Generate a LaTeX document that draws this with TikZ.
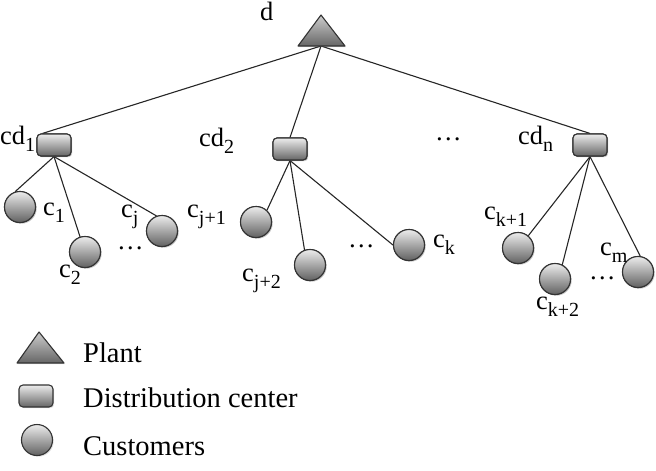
\documentclass[tikz,border=0pt]{standalone}
\usepackage{fontspec}
\setmainfont{Liberation Serif}
\usetikzlibrary{shadows}
\newcommand\sbx[1]{\raisebox{-0.62ex}{\fontsize{20}{22}\selectfont #1}}
\newcommand\lblfont{\fontsize{26.5}{28}\selectfont}
\newcommand\legfont{\fontsize{28.5}{30}\selectfont}
\begin{document}
\begin{tikzpicture}[x=1pt,y=-1pt,
  plantshape/.style={draw=black!80, line width=1.1pt, line join=round, top color=gray!40, bottom color=black!60,
    drop shadow={shadow xshift=1.2pt, shadow yshift=-1.2pt, opacity=0.25}},
  dcbox/.style={draw=black!80, line width=1.1pt, rounded corners=4pt, minimum width=34pt, minimum height=22pt,
    inner sep=0pt, top color=gray!15, bottom color=black!60,
    drop shadow={shadow xshift=1.2pt, shadow yshift=-1.2pt, opacity=0.25}},
  cust/.style={circle, draw=black!80, line width=1.1pt, minimum size=31pt, inner sep=0pt,
    top color=gray!15, bottom color=black!62,
    drop shadow={shadow xshift=1.2pt, shadow yshift=-1.2pt, opacity=0.25}},
  link/.style={draw=black!85, line width=1.1pt},
  lbl/.style={anchor=base west, inner sep=0pt, font=\lblfont},
  dotl/.style={anchor=base west, inner sep=0pt, font=\lblfont, text height=4pt, text depth=0pt},
  leg/.style={anchor=base west, inner sep=0pt, font=\legfont},
]
\useasboundingbox (0,0) rectangle (656,471);

% plant
\coordinate (dapex) at (321,15);
\coordinate (dl) at (298,46);
\coordinate (dr) at (345,46);
\coordinate (d) at (321,46);

% distribution centers
\node[dcbox] (cd1) at (54,145) {};
\node[dcbox] (cd2) at (290,149) {};
\node[dcbox] (cdn) at (590,145) {};

% customers
\node[cust] (c1) at (20,207) {};
\node[cust] (c2) at (85,252) {};
\node[cust] (cj) at (162,231) {};
\node[cust] (cj1) at (256,222) {};
\node[cust] (cj2) at (310,265) {};
\node[cust] (ck) at (409,245) {};
\node[cust] (ck1) at (518,248) {};
\node[cust] (ck2) at (555,279) {};
\node[cust] (cm) at (638,272) {};

% links
\path[link] (d) -- ([xshift=6pt]cd1.north west);
\path[link] (d) -- (cd2.north);
\path[link] (d) -- (cdn.north);
\path[link] (cd1.south) -- (c1.108);
\path[link] (cd1.south) -- (c2.108);
\path[link] (cd1.south) -- (cj.110);
\path[link] (cd2.south) -- (cj1.47);
\path[link] (cd2.south) -- (cj2.110);
\path[link] (cd2.south) -- (ck.180);
\path[link] (cdn.south) -- (ck1.50);
\path[link] (cdn.south) -- (ck2.63);
\path[link] (cdn.south) -- (cm.82);

% redraw shapes above links
\path[plantshape] (dapex) -- (dr) -- (dl) -- cycle;
\node[dcbox] at (cd1) {};
\node[dcbox] at (cd2) {};
\node[dcbox] at (cdn) {};
\foreach \n in {c1,c2,cj,cj1,cj2,ck,ck1,ck2,cm} \node[cust] at (\n) {};

% labels
\node[lbl] (ld) at (260,20) {d};
\node[lbl] (lcd1) at (0,144) {cd\sbx{1}};
\node[lbl] (lcd2) at (199,146) {cd\sbx{2}};
\node[lbl] (lcdn) at (518,144) {cd\sbx{n}};
\node[dotl] (ldots0) at (435,140) {…};
\node[lbl] (lc1) at (43,215) {c\sbx{1}};
\node[lbl] (lc2) at (59,277) {c\sbx{2}};
\node[lbl] (lcj) at (121,217) {c\sbx{j}};
\node[dotl] (ldots1) at (117,249) {…};
\node[lbl] (lcj1) at (187,217) {c\sbx{j+1}};
\node[lbl] (lcj2) at (242,281) {c\sbx{j+2}};
\node[dotl] (ldots2) at (348,247) {…};
\node[lbl] (lck) at (433,247) {c\sbx{k}};
\node[lbl] (lck1) at (484,219) {c\sbx{k+1}};
\node[lbl] (lcm) at (600,255) {c\sbx{m}};
\node[dotl] (ldots3) at (589,279) {…};
\node[lbl] (lck2) at (536,309) {c\sbx{k+2}};

% legend
\path[plantshape] (39,332) -- (64,363) -- (17,363) -- cycle;
\node[dcbox] (legdc) at (36,396) {};
\node[cust] (legcust) at (37,440) {};
\node[leg] (tplant) at (83,362) {Plant};
\node[leg] (tdc) at (83,407) {Distribution center};
\node[leg] (tcust) at (83,455) {Customers};
\end{tikzpicture}
\end{document}
